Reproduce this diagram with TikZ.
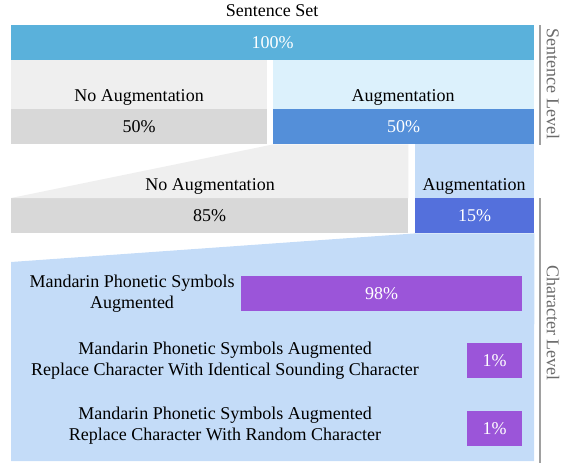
\documentclass[tikz,border=0pt]{standalone}
\usepackage{fontspec}
\setmainfont{Liberation Serif}
\usetikzlibrary{positioning}
\definecolor{topblue}{HTML}{5AB1DB}
\definecolor{paleg}{HTML}{EFEFEF}
\definecolor{palesky}{HTML}{DCF1FC}
\definecolor{barg}{HTML}{D8D8D8}
\definecolor{midblue}{HTML}{548FD9}
\definecolor{paleblue}{HTML}{C4DCF8}
\definecolor{deepblue}{HTML}{5470DC}
\definecolor{purp}{HTML}{9B55D9}
\definecolor{sidegray}{HTML}{A0A0A0}
\tikzset{txt/.style={font=\fontsize{18}{21}\selectfont}}
\tikzset{bar/.style={txt, anchor=north west, inner sep=0pt, minimum height=35pt}}
\tikzset{lab/.style={txt, anchor=base}}
\tikzset{side/.style={txt, text=black!58, rotate=-90}}
\tikzset{level/.style={draw=sidegray, line width=1.2pt}}

\begin{document}
\begin{tikzpicture}[x=1pt,y=-1pt]
\useasboundingbox (0,0) rectangle (564,464);

% sentence level
\node[lab] (set) at (272,16) {Sentence Set};
\node[bar, fill=topblue, text=white, minimum width=523pt] (all) at (11,25) {100\%};
\node[bar, fill=barg, minimum width=256pt] (noA) at (11,109) {50\%};
\node[bar, fill=midblue, text=white, minimum width=261pt] (augA) at (273,109) {50\%};
\fill[paleg] (all.south west) rectangle (noA.north east);
\fill[palesky] (augA.north west |- all.south) rectangle (augA.north east);
\node[lab] (noAlab) at (139,101) {No Augmentation};
\node[lab] (augAlab) at (403,101) {Augmentation};

% character level
\node[bar, fill=barg, minimum width=397pt] (noB) at (11,198) {85\%};
\node[bar, fill=deepblue, text=white, minimum width=119pt] (augB) at (415,198) {15\%};
\fill[paleg] (augA.south west) -- (noB.north east |- augA.south) -- (noB.north east) -- (noB.north west) -- cycle;
\fill[paleblue] (augB.north west |- augA.south) rectangle (augB.north east);
\node[lab] (noBlab) at (210,190) {No Augmentation};
\node[lab] (augBlab) at (474,190) {Augmentation};

\fill[paleblue] (augB.south west) -- (augB.south east) -- (534,461) -- (11,461) -- (11,262) -- cycle;

\node[bar, fill=purp, text=white, minimum width=281pt] (mps) at (241,276) {98\%};
\node[bar, fill=purp, text=white, minimum width=55pt] (same) at (467,343) {1\%};
\node[bar, fill=purp, text=white, minimum width=55pt] (rand) at (467,411) {1\%};
\node[txt, align=center] (mpslab) at (132,294) {Mandarin Phonetic Symbols\\Augmented};
\node[txt, align=center] (samelab) at (225,361) {Mandarin Phonetic Symbols Augmented\\Replace Character With Identical Sounding Character};
\node[txt, align=center] (randlab) at (225,426) {Mandarin Phonetic Symbols Augmented\\Replace Character With Random Character};

% levels
\draw[level] (540,25) -- (540,145);
\draw[level] (540,198) -- (540,463);
\node[side] (sent) at (553,84) {Sentence Level};
\node[side] (char) at (553,323) {Character Level};
\end{tikzpicture}
\end{document}
